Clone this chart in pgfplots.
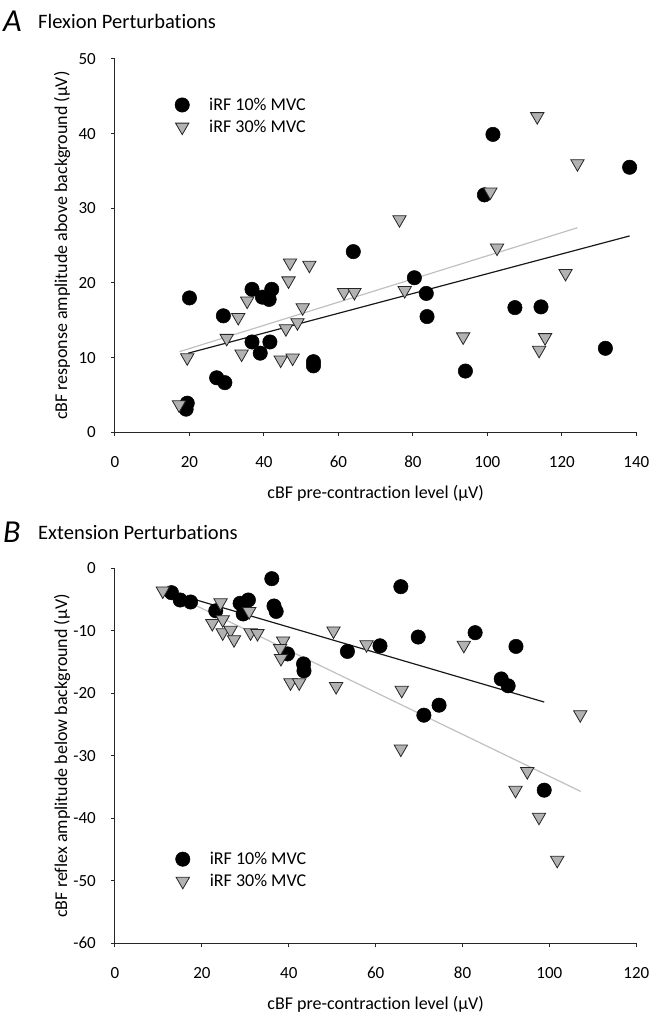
\documentclass[border=0pt]{standalone}
\usepackage{fontspec}
\setmainfont{Carlito}[Ligatures=NoCommon]
\usepackage{pgfplots}
\pgfplotsset{compat=1.18}

\definecolor{trifill}{RGB}{178,178,178}
\definecolor{trendgray}{RGB}{192,192,192}
\newcommand{\lblfont}{\fontsize{18bp}{21bp}\selectfont}
\newcommand{\tckfont}{\fontsize{17bp}{20bp}\selectfont}

\pgfplotsset{
  reflex/.style={
    scale only axis, width=521.3bp,
    axis lines*=left,
    axis line style={line width=1bp, black!85},
    tick align=outside,
    major tick length=4bp,
    tick style={line width=1bp, black!85},
    tick label style={font=\tckfont},
    /pgf/number format/assume math mode=true,
    xticklabel style={anchor=base, yshift=-31.5bp},
    yticklabel style={anchor=east, inner sep=0bp, xshift=-15bp},
    label style={font=\lblfont},
    legend style={draw=none, fill=none, inner sep=0bp, row sep=6bp,
      nodes={inner sep=0bp}, font=\lblfont, anchor=west},
    legend cell align=left,
    clip=false,
  },
  tenpc/.style={only marks, mark=*, mark size=7.2bp,
    mark options={fill=black, draw=black, line width=0.5bp},
    legend image code/.code={\path[draw=none,fill=none] (-8bp,-8bp) (27bp,8bp);
      \draw[##1] plot coordinates {(0bp,0bp)};}},
  thirtypc/.style={only marks, mark=triangle*, mark size=7.7bp,
    mark options={rotate=180, fill=trifill, draw=black!85, line width=0.8bp},
    legend image code/.code={\path[draw=none,fill=none] (-8bp,-8bp) (27bp,8bp);
      \draw[##1] plot coordinates {(0bp,0bp)};}},
}

\begin{document}
\begin{tikzpicture}
\useasboundingbox (0,0) rectangle (667bp,1017bp);

% panel titles
\node[anchor=west, inner sep=0bp, font=\fontsize{32bp}{32bp}\selectfont\itshape] at (3bp,996bp) {A};
\node[anchor=west, inner sep=0bp, font=\fontsize{20.5bp}{24bp}\selectfont] at (38bp,996bp) {Flexion Perturbations};
\node[anchor=west, inner sep=0bp, font=\fontsize{32bp}{32bp}\selectfont\itshape] at (3bp,485bp) {B};
\node[anchor=west, inner sep=0bp, font=\fontsize{20.5bp}{24bp}\selectfont] at (38bp,485bp) {Extension Perturbations};

% ---- A: flexion ----
\begin{axis}[reflex,
  at={(115bp,584.7bp)}, anchor=south west, height=373.3bp,
  xmin=0, xmax=140, ymin=0, ymax=50,
  xtick={0,20,...,140}, ytick={0,10,...,50},
  xlabel={cBF pre-contraction level (μV)},
  ylabel={cBF response amplitude above background (μV)},
  xlabel style={at={(axis description cs:0.5,-0.1634)}, anchor=center},
  ylabel style={at={(axis description cs:-0.1017,0.5)}, anchor=center},
  legend style={at={(axis cs:15.85,42.37)}},
]
\addplot[trendgray, line width=1.2bp, forget plot] coordinates {(17.3,10.8) (124.2,27.4)};
\addplot[black!90, line width=1.2bp, forget plot] coordinates {(19.7,10.6) (138.2,26.3)};
\addplot[tenpc] coordinates {
  (64.0,24.2) (20.0,18.0) (29.1,15.6) (36.8,19.15) (42.1,19.15) (39.6,18.1)
  (41.4,17.8) (36.8,12.1) (41.6,12.1) (39.0,10.6) (53.3,9.46) (53.3,8.9)
  (27.3,7.3) (29.5,6.65) (19.4,3.9) (19.1,3.1) (101.5,39.9) (138.2,35.5)
  (99.2,31.8) (80.4,20.7) (83.6,18.6) (83.8,15.5) (107.4,16.7) (114.4,16.8)
  (131.7,11.25) (94.1,8.2)};
\addlegendentry{iRF 10\% MVC}
\addplot[thirtypc] coordinates {
  (17.2,3.7) (19.4,10.0) (30.0,12.6) (33.1,15.4) (35.5,17.6) (34.0,10.5)
  (47.0,22.7) (52.2,22.4) (46.6,20.3) (50.4,16.7) (45.9,13.9) (49.0,14.7)
  (44.5,9.7) (47.7,9.96) (61.5,18.75) (64.3,18.75) (113.4,42.3) (124.2,36.0)
  (100.8,32.2) (76.4,28.5) (102.6,24.7) (121.0,21.3) (77.8,19.0) (93.5,12.8)
  (115.5,12.7) (113.9,11.0)};
\addlegendentry{iRF 30\% MVC}
\end{axis}

% ---- B: extension ----
\begin{axis}[reflex,
  at={(115bp,73.7bp)}, anchor=south west, height=375bp,
  xmin=0, xmax=120, ymin=-60, ymax=0,
  xtick={0,20,...,120}, ytick={-60,-50,...,0},
  xlabel={cBF pre-contraction level (μV)},
  ylabel={cBF reflex amplitude below background (μV)},
  xlabel style={at={(axis description cs:0.5,-0.1627)}, anchor=center},
  ylabel style={at={(axis description cs:-0.1017,0.5)}, anchor=center},
  legend style={at={(axis cs:13.72,-48.3)}},
]
\addplot[trendgray, line width=1.2bp, forget plot] coordinates {(11.0,-3.4) (107.2,-35.7)};
\addplot[black!90, line width=1.2bp, forget plot] coordinates {(13.0,-3.9) (98.8,-21.4)};
\addplot[tenpc] coordinates {
  (36.1,-1.66) (13.0,-3.9) (15.0,-5.07) (17.4,-5.39) (23.2,-6.8) (28.8,-5.6)
  (30.7,-5.07) (29.5,-7.3) (36.6,-6.03) (37.1,-6.9) (39.7,-13.7) (43.4,-15.3)
  (43.5,-16.4) (53.5,-13.3) (61.0,-12.4) (65.8,-2.94) (69.8,-11.0) (82.9,-10.3)
  (92.3,-12.5) (88.9,-17.7) (90.5,-18.8) (74.6,-21.9) (71.1,-23.5) (98.8,-35.5)};
\addlegendentry{iRF 10\% MVC}
\addplot[thirtypc] coordinates {
  (11.0,-3.6) (24.3,-5.5) (22.4,-8.8) (24.8,-8.2) (24.8,-10.3) (26.6,-9.9)
  (27.4,-11.4) (30.9,-6.9) (31.2,-10.3) (32.8,-10.4) (38.7,-11.6) (38.0,-12.8)
  (38.2,-14.4) (40.4,-18.3) (42.4,-18.3) (50.9,-18.9) (50.3,-10.0) (57.9,-12.2)
  (80.3,-12.3) (66.0,-19.5) (107.1,-23.4) (65.8,-28.9) (94.9,-32.5) (92.2,-35.5)
  (97.6,-39.8) (101.8,-46.7)};
\addlegendentry{iRF 30\% MVC}
\end{axis}
\end{tikzpicture}
\end{document}
